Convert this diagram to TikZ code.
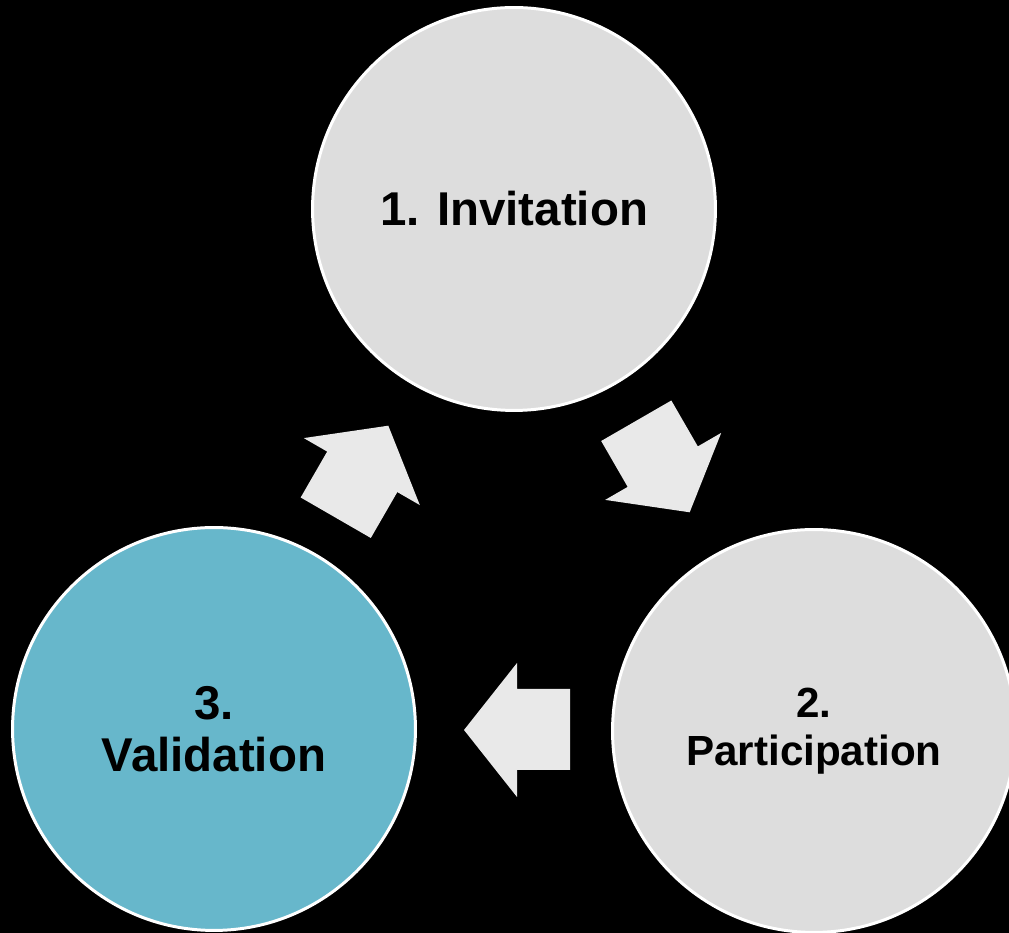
\documentclass[tikz,border=0pt]{standalone}
\usepackage{fontspec}
\setmainfont{Liberation Sans}
\definecolor{stagegrey}{RGB}{221,221,221}
\definecolor{stageteal}{RGB}{103,183,203}
\definecolor{cyclegrey}{RGB}{233,233,233}

\begin{document}
\begin{tikzpicture}[
    x=0.02cm, y=0.02cm,
    stage/.style={circle, draw=white, line width=1.7pt, fill=stagegrey, minimum size=8.06cm, align=center, text=black},
    cyclearrow/.style={fill=cyclegrey}
]
    % Black background, picture cut to the frame
    \fill[black] (0,0) rectangle (1009,933);
    \clip (0,0) rectangle (1009,933);

    % Three stages of the cycle
    \node[stage, font=\bfseries\fontsize{27}{32}\selectfont] (invitation) at (514,724) {1. Invitation};
    \node[stage, font=\bfseries\fontsize{24}{27}\selectfont] (participation) at (814,202) {2.\\Participation};
    \node[stage, fill=stageteal, font=\bfseries\fontsize{27}{29.5}\selectfont] (validation) at (214,204) {3.\\Validation};

    % Block arrows turning round the middle
    \coordinate (mid) at (514,377);
    \foreach \ang in {0,120,240}
        \fill[cyclearrow, shift={(mid)}, rotate=\ang]
            (-50,-174) -- (3,-107) -- (3,-133) -- (56,-133) -- (56,-214) -- (3,-214) -- (3,-241) -- cycle;
\end{tikzpicture}
\end{document}
